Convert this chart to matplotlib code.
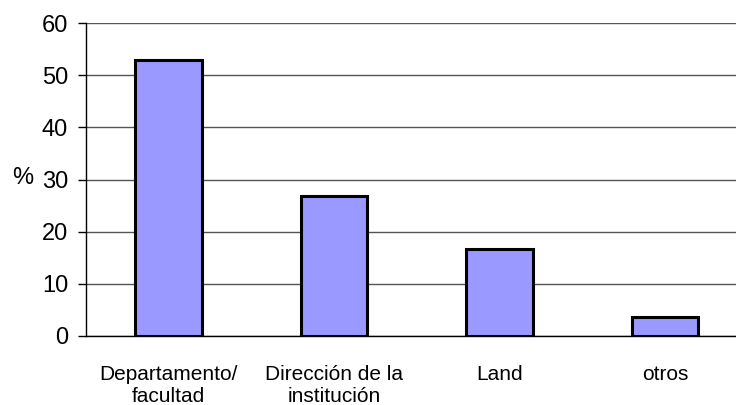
import numpy as np
import matplotlib.pyplot as plt

categorias = ['Departamento/\nfacultad', 'Dirección de la\ninstitución', 'Land', 'otros']
valores = [52.9, 26.8, 16.6, 3.7]
yticks = [0, 10, 20, 30, 40, 50, 60]

plt.rcParams['font.family'] = ['Liberation Sans', 'DejaVu Sans']

fig = plt.figure(figsize=(7.36, 4.05), dpi=100)
# el área del gráfico sigue un poco más allá del borde derecho
ax = fig.add_axes([86/736, 69/405, 661.6/736, 313/405])

x = np.arange(len(categorias))
ax.bar(x, valores, width=0.403, color='#9999ff', edgecolor='black', linewidth=2.2, zorder=3)

ax.set_xlim(-0.5, len(categorias) - 0.5)
ax.set_ylim(0, 60)
ax.set_yticks(yticks)
ax.set_xticks(x)
ax.set_xticklabels(categorias, fontsize=15)
ax.tick_params(axis='y', labelsize=17, length=5.8, width=1, direction='out', pad=7)
ax.tick_params(axis='x', length=0, pad=21)
ax.yaxis.grid(True, color='#555555', linewidth=1, zorder=0)

for s in ['top', 'right']:
    ax.spines[s].set_visible(False)
ax.spines['left'].set_linewidth(1)
ax.spines['bottom'].set_linewidth(1)

ax.set_ylabel('%', fontsize=17, rotation=0, ha='center', va='center')
ax.yaxis.set_label_coords(-0.095, 0.505)

fig.savefig('out.png', dpi=100)
